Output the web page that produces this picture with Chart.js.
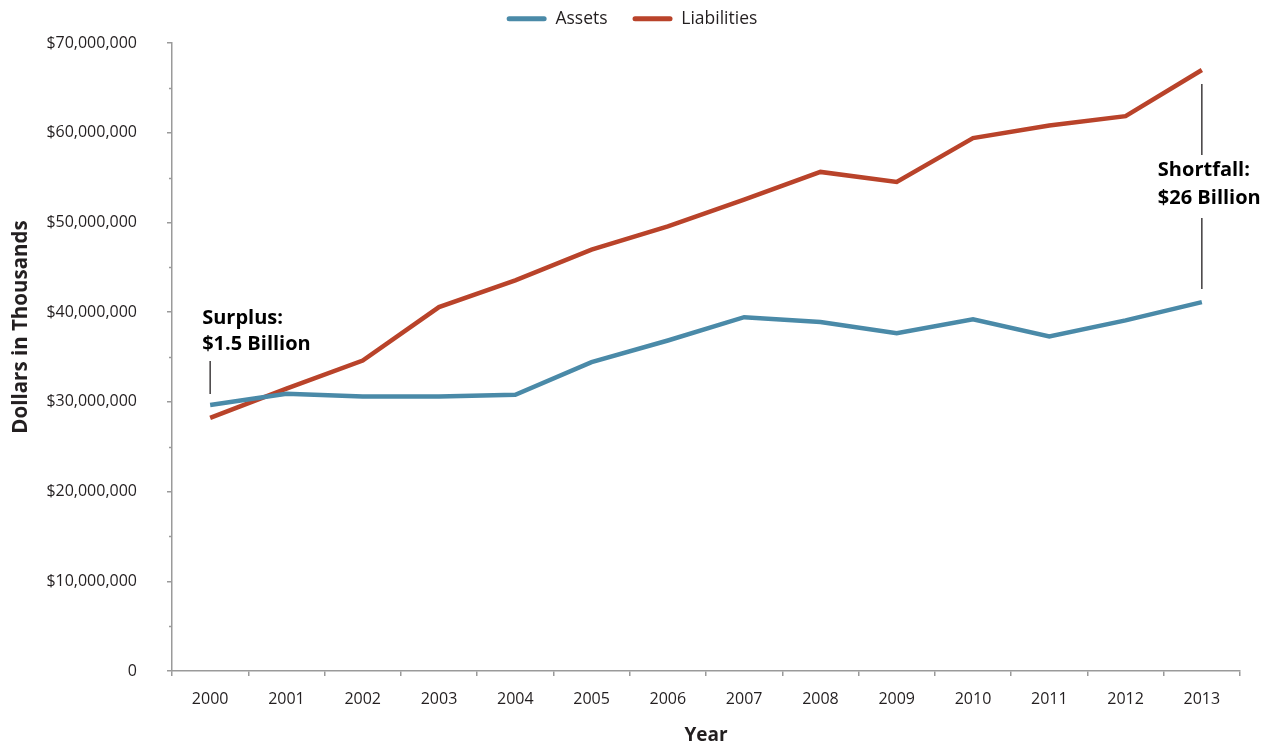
<!DOCTYPE html>
<html>
<head>
<meta charset="utf-8">
<script src="https://cdn.jsdelivr.net/npm/chart.js@4"></script>
<style>
  html, body { margin: 0; padding: 0; background: #fff; }
  #wrap { width: 1275px; height: 742px; }
</style>
</head>
<body>
<div id="wrap"><canvas id="c" width="1275" height="742"></canvas></div>
<script>
// ---- data ----
const years = ['2000','2001','2002','2003','2004','2005','2006','2007','2008','2009','2010','2011','2012','2013'];
const assets = [29660000, 30890000, 30590000, 30600000, 30780000, 34420000, 36840000, 39440000, 38890000, 37660000, 39190000, 37290000, 39080000, 41120000];
const liabilities = [28210000, 31480000, 34610000, 40560000, 43540000, 46970000, 49570000, 52550000, 55630000, 54520000, 59400000, 60800000, 61850000, 66990000];
const seriesNames = ['Assets', 'Liabilities'];
const yTitle = 'Dollars in Thousands';
const xTitle = 'Year';
const surplusText = ['Surplus:', '$1.5 Billion'];
const shortfallText = ['Shortfall:', '$26 Billion'];

const BLUE = '#4a8aa8';
const RED = '#b9432a';
const TXT = '#231f20';
const AXIS = '#9a9a9a';
const FONT = '"Open Sans", "Noto Sans", sans-serif';

const legendFit = {
  id: 'legendFit',
  beforeInit(chart) {
    const orig = chart.legend.fit;
    chart.legend.fit = function () { orig.call(this); this.height = 58; };
  },
  afterLayout(chart) {
    chart.legend.left += 12;
    chart.legend.right += 12;
  }
};

const minorTicks = {
  id: 'minorTicks',
  afterDraw(chart) {
    const y = chart.scales.y;
    const ctx = chart.ctx;
    ctx.save();
    ctx.strokeStyle = AXIS;
    ctx.lineWidth = 1.5;
    for (let v = 5000000; v < 70000000; v += 10000000) {
      const py = Math.round(y.getPixelForValue(v)) + 0.5;
      ctx.beginPath();
      ctx.moveTo(y.right - 3, py);
      ctx.lineTo(y.right, py);
      ctx.stroke();
    }
    ctx.restore();
  }
};

const yTitlePlugin = {
  id: 'yTitlePlugin',
  afterDraw(chart) {
    const a = chart.chartArea, ctx = chart.ctx;
    ctx.save();
    ctx.translate(21, a.top + 284);
    ctx.rotate(-Math.PI / 2);
    ctx.fillStyle = TXT;
    ctx.font = 'bold 20.5px ' + FONT;
    ctx.textAlign = 'center';
    ctx.textBaseline = 'middle';
    ctx.fillText(yTitle, 0, 0);
    ctx.restore();
  }
};

const annotations = {
  id: 'annotations',
  afterDatasetsDraw(chart) {
    const x = chart.scales.x, y = chart.scales.y, ctx = chart.ctx;
    ctx.save();
    ctx.strokeStyle = '#231f20';
    ctx.lineWidth = 1.3;
    ctx.fillStyle = '#000';
    ctx.font = 'bold 20px ' + FONT;
    ctx.textBaseline = 'middle';
    ctx.textAlign = 'left';
    // Surplus at first year
    const x0 = x.getPixelForValue(0);
    const ya0 = y.getPixelForValue(Math.max(assets[0], liabilities[0]));
    ctx.beginPath();
    ctx.moveTo(x0, ya0 - 11);
    ctx.lineTo(x0, ya0 - 44);
    ctx.stroke();
    ctx.fillText(surplusText[0], x0 - 8, ya0 - 87);
    ctx.fillText(surplusText[1], x0 - 8, ya0 - 61);
    // Shortfall at last year
    const n = years.length - 1;
    const xn = x.getPixelForValue(n);
    const yl = y.getPixelForValue(liabilities[n]);
    const ya = y.getPixelForValue(assets[n]);
    ctx.beginPath();
    ctx.moveTo(xn, yl + 14);
    ctx.lineTo(xn, yl + 85);
    ctx.moveTo(xn, ya - 84);
    ctx.lineTo(xn, ya - 13);
    ctx.stroke();
    ctx.fillText(shortfallText[0], xn - 44, yl + 100);
    ctx.fillText(shortfallText[1], xn - 44, yl + 128);
    ctx.restore();
  }
};

new Chart(document.getElementById('c'), {
  type: 'line',
  data: {
    labels: years,
    datasets: [
      { label: seriesNames[0], data: assets, borderColor: BLUE, backgroundColor: BLUE, borderWidth: 4.5, pointRadius: 0, tension: 0, borderJoinStyle: 'miter' },
      { label: seriesNames[1], data: liabilities, borderColor: RED, backgroundColor: RED, borderWidth: 4.5, pointRadius: 0, tension: 0, borderJoinStyle: 'miter' }
    ]
  },
  options: {
    responsive: false,
    animation: false,
    layout: { padding: { top: -15, right: 35, left: 0, bottom: -5 } },
    plugins: {
      tooltip: { enabled: false },
      legend: {
        position: 'top',
        labels: {
          color: TXT,
          font: { family: FONT, size: 17.5 },
          boxWidth: 40,
          boxHeight: 5,
          padding: 25,
          useBorderRadius: true,
          borderRadius: 2.5,
          generateLabels(chart) {
            return chart.data.datasets.map((d, i) => ({
              text: d.label, fillStyle: d.borderColor, strokeStyle: d.borderColor,
              lineWidth: 0, hidden: false, datasetIndex: i, fontColor: TXT, borderRadius: 2.5
            }));
          }
        }
      }
    },
    scales: {
      x: {
        offset: true,
        grid: { offset: true, drawOnChartArea: false, drawTicks: true, tickLength: 5, color: AXIS, lineWidth: 1.5 },
        border: { display: true, color: AXIS, width: 1.5 },
        ticks: { color: TXT, font: { family: FONT, size: 16 }, padding: 14, maxRotation: 0 },
        title: { display: true, text: xTitle, color: TXT, font: { family: FONT, size: 19, weight: 'bold' }, padding: { top: 1, bottom: 0 } }
      },
      y: {
        min: 0, max: 70000000,
        afterFit(scale) { scale.width = 172; },
        grid: { drawOnChartArea: false, drawTicks: true, tickLength: 5, color: AXIS, lineWidth: 1.5 },
        border: { display: true, color: AXIS, width: 1.5 },
        ticks: {
          stepSize: 10000000, color: TXT, font: { family: FONT, size: 16 }, padding: 30,
          callback: v => v === 0 ? '0' : '$' + v.toLocaleString('en-US')
        },
        title: { display: false }
      }
    }
  },
  plugins: [legendFit, minorTicks, yTitlePlugin, annotations]
});
</script>
</body>
</html>
